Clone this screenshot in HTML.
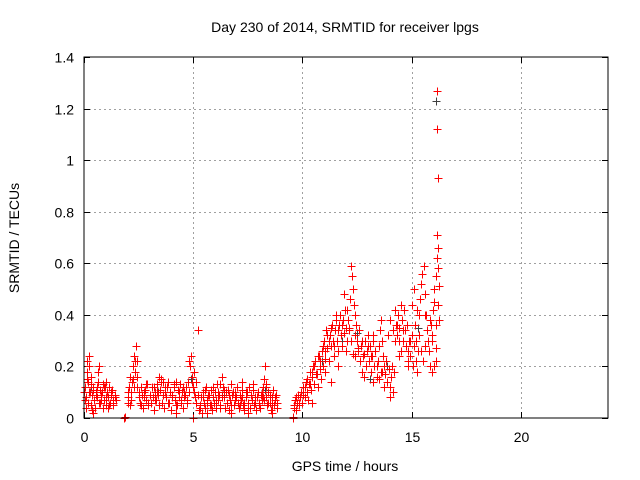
<!DOCTYPE html>
<html><head><meta charset="utf-8"><style>
html,body{margin:0;padding:0;background:#fff;}
svg{display:block;font-family:"Liberation Sans",sans-serif;}
</style></head><body>
<svg id="chart" width="640" height="480" viewBox="0 0 640 480">
<rect width="640" height="480" fill="#fff"/>
<text x="345" y="32" font-size="14" text-anchor="middle">Day 230 of 2014, SRMTID for receiver lpgs</text>
<text x="345" y="471" font-size="14" text-anchor="middle">GPS time / hours</text>
<text x="19" y="238" font-size="14" text-anchor="middle" transform="rotate(-90 19 238)">SRMTID / TECUs</text>
<g id="grid"></g>
<g id="ticks"></g>
<g id="marks"></g>
<rect x="84" y="57" width="524" height="361" fill="none" stroke="#000" stroke-width="1"/>
</svg>
<script>
const xTicks=[0,5,10,15,20];
const xTickLabels=["0","5","10","15","20"];
const yTicks=[0,0.2,0.4,0.6,0.8,1,1.2,1.4];
const yTickLabels=["0","0.2","0.4","0.6","0.8","1","1.2","1.4"];
const redTimes=[0.0,0.05,0.1,0.12,0.15,0.18,0.2,0.22,0.25,0.28,0.3,0.33,0.36,0.38,0.4,0.45,0.5,0.55,0.6,0.62,0.65,0.7,0.75,0.8,0.85,0.9,0.95,1.0,1.05,1.1,1.15,1.2,1.25,1.3,1.35,1.4,1.45,0.08,0.32,0.42,0.58,0.68,0.78,0.88,1.02,1.12,1.22,1.32,
1.85,1.87,
2.0,2.05,2.1,2.15,2.2,2.25,2.3,2.35,2.4,2.45,2.5,2.55,2.6,2.65,2.7,2.75,2.8,2.85,2.9,2.95,3.0,3.05,3.1,3.15,3.2,3.25,3.3,3.35,3.4,3.45,3.5,3.55,3.6,3.65,3.7,3.75,3.8,3.85,3.9,3.95,4.0,4.05,4.1,4.15,4.2,4.25,4.3,4.35,4.4,4.45,4.5,4.55,4.6,4.65,4.7,4.75,4.8,4.85,4.9,4.95,5.0,5.05,5.1,5.0,5.15,5.2,5.25,5.3,5.35,5.4,5.45,5.5,5.55,5.6,5.65,5.7,5.75,5.8,5.85,5.9,5.95,6.0,6.05,6.1,6.15,6.2,6.25,6.3,6.35,6.4,6.45,6.5,6.55,6.6,6.65,6.7,6.75,6.8,6.85,6.9,6.95,7.0,7.05,7.1,7.15,7.2,7.25,7.3,7.35,7.4,7.45,7.5,7.55,7.6,7.65,7.7,7.75,7.8,7.85,7.9,7.95,8.0,8.05,8.1,8.15,8.2,8.25,8.3,8.35,8.4,8.45,8.5,8.55,8.6,8.65,8.7,8.75,8.8,8.85,2.02,2.12,2.28,2.42,3.22,3.52,4.22,4.58,5.12,5.62,6.22,6.72,7.22,7.52,8.22,8.32,8.62,
9.55,9.57,
9.6,9.65,9.7,9.75,9.8,9.85,9.9,9.95,10.0,10.05,10.1,10.15,10.2,10.25,10.3,10.35,10.4,10.45,10.5,10.55,10.6,10.65,10.7,10.75,10.8,10.85,10.9,10.95,11.0,11.05,11.1,11.15,11.2,11.25,11.3,11.35,11.4,11.45,11.5,11.55,11.6,11.65,11.7,11.75,11.8,11.85,11.9,11.95,12.0,12.05,12.1,12.15,12.2,12.25,12.28,12.3,12.35,12.4,12.45,12.5,12.55,12.6,12.65,12.7,12.75,12.8,12.85,12.9,12.95,13.0,13.05,13.1,13.15,13.2,13.25,13.3,13.35,13.4,13.45,13.5,13.55,13.6,13.65,13.7,13.75,13.8,13.85,13.9,13.95,14.0,14.05,14.1,14.15,14.2,14.25,14.3,14.35,14.4,14.45,14.5,14.55,14.6,14.65,14.7,14.75,14.8,14.85,14.9,14.95,15.0,15.05,15.1,15.15,15.2,15.25,15.3,15.35,15.4,15.45,15.5,15.55,15.6,15.65,15.7,15.75,15.8,15.85,15.9,15.95,16.0,16.05,16.1,16.12,16.15,16.17,16.2,16.22,16.25,16.15,16.17,16.2,
10.42,11.02,11.32,11.62,12.02,12.42,12.82,13.22,13.62,14.02,14.42,14.82,15.22,15.62,15.92,16.05,16.1,16.2,16.25];
const redValues=[0.10,0.12,0.08,0.18,0.22,0.14,0.06,0.24,0.2,0.1,0.05,0.13,0.03,0.09,0.12,0.07,0.04,0.10,0.08,0.14,0.18,0.06,0.11,0.09,0.13,0.07,0.12,0.05,0.1,0.08,0.12,0.06,0.09,0.11,0.05,0.08,0.07,0.04,0.16,0.02,0.12,0.2,0.07,0.04,0.14,0.04,0.1,0.06,
0,0.005,
0.08,0.12,0.05,0.1,0.14,0.2,0.24,0.18,0.28,0.22,0.1,0.06,0.12,0.09,0.04,0.08,0.11,0.07,0.13,0.05,0.09,0.06,0.12,0.08,0.03,0.1,0.07,0.13,0.09,0.16,0.11,0.06,0.14,0.04,0.1,0.08,0.12,0.14,0.06,0.1,0.03,0.09,0.12,0.07,0.14,0.05,0.11,0.08,0.13,0.06,0.1,0.04,0.08,0.12,0.07,0.14,0.1,0.2,0.24,0.16,0.12,0.18,0.08,0,0.06,0.34,0.03,0.05,0.08,0.02,0.1,0.06,0.04,0.12,0.07,0.09,0.05,0.11,0.03,0.08,0.06,0.1,0.04,0.13,0.07,0.09,0.05,0.16,0.12,0.08,0.04,0.1,0.06,0.11,0.03,0.07,0.13,0.09,0.05,0.1,0.08,0.12,0.06,0.04,0.09,0.07,0.11,0.05,0.03,0.08,0.1,0.06,0.12,0.04,0.09,0.07,0.13,0.05,0.08,0.03,0.1,0.06,0.04,0.09,0.07,0.12,0.15,0.2,0.08,0.05,0.1,0.06,0.03,0.08,0.11,0.05,0.07,0.09,0.04,0.06,0.16,0.12,0.16,0.12,0.15,0.02,0.1,0.14,0.02,0.13,0.02,0.14,0.02,0.08,0.13,0.02,
0,0.005,
0.04,0.07,0.03,0.06,0.09,0.05,0.08,0.1,0.06,0.12,0.08,0.14,0.1,0.07,0.13,0.18,0.11,0.16,0.2,0.13,0.22,0.17,0.12,0.24,0.19,0.15,0.26,0.2,0.3,0.23,0.34,0.27,0.22,0.32,0.28,0.36,0.3,0.24,0.34,0.4,0.3,0.26,0.36,0.32,0.28,0.38,0.33,0.42,0.35,0.3,0.38,0.34,0.46,0.59,0.55,0.5,0.44,0.4,0.36,0.3,0.26,0.34,0.22,0.28,0.18,0.24,0.3,0.2,0.26,0.32,0.22,0.28,0.18,0.24,0.3,0.2,0.26,0.16,0.22,0.28,0.34,0.38,0.3,0.24,0.2,0.17,0.22,0.14,0.19,0.12,0.16,0.2,0.1,0.18,0.3,0.36,0.32,0.4,0.35,0.44,0.38,0.3,0.42,0.34,0.28,0.36,0.26,0.3,0.24,0.32,0.2,0.28,0.36,0.3,0.18,0.26,0.4,0.46,0.52,0.56,0.59,0.48,0.4,0.34,0.3,0.26,0.2,0.36,0.32,0.42,0.5,0.27,0.22,0.62,0.71,0.66,0.58,0.51,1.27,1.12,0.93,
0.06,0.18,0.14,0.2,0.26,0.24,0.16,0.14,0.18,0.08,0.24,0.2,0.22,0.28,0.18,0.2,0.36,0.44,0.38];
const redTimes2=[0.03,0.13,0.23,0.33,0.43,0.53,0.63,0.73,0.83,0.93,1.03,1.13,1.23,1.33,1.43,
2.03,2.13,2.23,2.33,2.43,2.53,2.63,2.73,2.83,2.93,3.03,3.13,3.23,3.33,3.43,3.53,3.63,3.73,3.83,3.93,4.03,4.13,4.23,4.33,4.43,4.53,4.63,4.73,4.83,4.93,5.03,5.13,5.23,5.33,5.43,5.53,5.63,5.73,5.83,5.93,6.03,6.13,6.23,6.33,6.43,6.53,6.63,6.73,6.83,6.93,7.03,7.13,7.23,7.33,7.43,7.53,7.63,7.73,7.83,7.93,8.03,8.13,8.23,8.33,8.43,8.53,8.63,8.73,8.83,
9.63,9.73,9.83,9.93,10.03,10.13,10.23,10.33,10.43,10.53,10.63,10.73,10.83,10.93,11.03,11.13,11.23,11.33,11.43,11.53,11.63,11.73,11.83,11.93,12.03,12.13,12.23,12.33,12.43,12.53,12.63,12.73,12.83,12.93,13.03,13.13,13.23,13.33,13.43,13.53,13.63,13.73,13.83,13.93,14.03,14.13,14.23,14.33,14.43,14.53,14.63,14.73,14.83,14.93,15.03,15.13,15.23,15.33,15.43,15.53,15.63,15.73,15.83,15.93,16.03,16.13];
const redValues2=[0.07,0.15,0.1,0.05,0.11,0.09,0.14,0.06,0.1,0.12,0.08,0.05,0.1,0.07,0.09,
0.1,0.07,0.15,0.22,0.12,0.08,0.05,0.1,0.13,0.06,0.09,0.12,0.07,0.1,0.05,0.14,0.09,0.12,0.06,0.1,0.08,0.13,0.05,0.1,0.07,0.12,0.09,0.06,0.22,0.14,0.1,0.06,0.09,0.04,0.08,0.11,0.06,0.09,0.05,0.12,0.07,0.1,0.04,0.08,0.11,0.06,0.09,0.05,0.1,0.07,0.12,0.05,0.08,0.06,0.1,0.04,0.09,0.11,0.06,0.08,0.05,0.1,0.07,0.12,0.06,0.09,0.05,0.08,0.06,
0.05,0.08,0.06,0.1,0.09,0.12,0.15,0.13,0.18,0.2,0.17,0.24,0.22,0.28,0.26,0.32,0.3,0.35,0.28,0.38,0.34,0.4,0.36,0.48,0.42,0.35,0.3,0.25,0.32,0.27,0.22,0.3,0.25,0.2,0.28,0.24,0.32,0.26,0.2,0.15,0.18,0.12,0.22,0.32,0.38,0.34,0.42,0.36,0.3,0.26,0.34,0.28,0.22,0.3,0.44,0.5,0.42,0.32,0.26,0.22,0.4,0.34,0.38,0.3,0.45,0.55];
const grayTimes=[0.3,2.2,3.4,4.9,6.3,8.3,10.9,11.8,12.5,13.1,13.9,14.6,15.3,16.12];
const grayValues=[0.12,0.14,0.1,0.15,0.09,0.11,0.22,0.3,0.33,0.15,0.2,0.3,0.35,1.23];

const NS="http://www.w3.org/2000/svg";
const X0=84,X1=608,Y0=418,Y1=57;
function xs(v){return X0+v*(X1-X0)/24;}
function ys(v){return Y0-v*(Y0-Y1)/1.4;}
const grid=document.getElementById('grid'),ticks=document.getElementById('ticks'),marks=document.getElementById('marks');
function line(p,x1,y1,x2,y2,st,dash){const l=document.createElementNS(NS,'line');l.setAttribute('x1',x1);l.setAttribute('y1',y1);l.setAttribute('x2',x2);l.setAttribute('y2',y2);l.setAttribute('stroke',st);if(dash)l.setAttribute('stroke-dasharray',dash);p.appendChild(l);return l;}
yTicks.forEach((v,i)=>{const y=Math.round(ys(v))+0.5;
 if(v>0&&v<1.4){const g=line(grid,X0,y,X1,y,'#a0a0a0','2,3');
 
 }
 line(ticks,X0,y,X0+6,y,'#000');line(ticks,X1-6,y,X1,y,'#000');
 const t=document.createElementNS(NS,'text');
 
 
 t.setAttribute('x',X0-10);t.setAttribute('y',y+5);t.setAttribute('font-size','14');t.setAttribute('text-anchor','end');t.textContent=yTickLabels[i];ticks.appendChild(t);});
xTicks.forEach((v,i)=>{const x=Math.round(xs(v))+0.5;
 if(v>0){const g=line(grid,x,Y1,x,Y0,'#a0a0a0','2,3');
 
 }
 line(ticks,x,Y0-6,x,Y0,'#000');line(ticks,x,Y1,x,Y1+6,'#000');
 const t=document.createElementNS(NS,'text');
 
 
 t.setAttribute('x',x);t.setAttribute('y',Y0+24);t.setAttribute('font-size','14');t.setAttribute('text-anchor','middle');t.textContent=xTickLabels[i];ticks.appendChild(t);});
function plus(x,y,c,name){const p=document.createElementNS(NS,'path');
 
 
 const cx=Math.round(x)+0.5,cy=Math.round(y)+0.5;
 p.setAttribute('d',`M${cx-4} ${cy}H${cx+4}M${cx} ${cy-4}V${cy+4}`);p.setAttribute('stroke',c);p.setAttribute('fill','none');marks.appendChild(p);}
grayTimes.forEach((t,i)=>plus(xs(t),ys(grayValues[i]),'#404040','gray-point'));
redTimes2.forEach((t,i)=>plus(xs(t),ys(redValues2[i]),'#ff0000','srmtid-point'));
redTimes.forEach((t,i)=>plus(xs(t),ys(redValues[i]),'#ff0000','srmtid-point'));
</script>
</body></html>
